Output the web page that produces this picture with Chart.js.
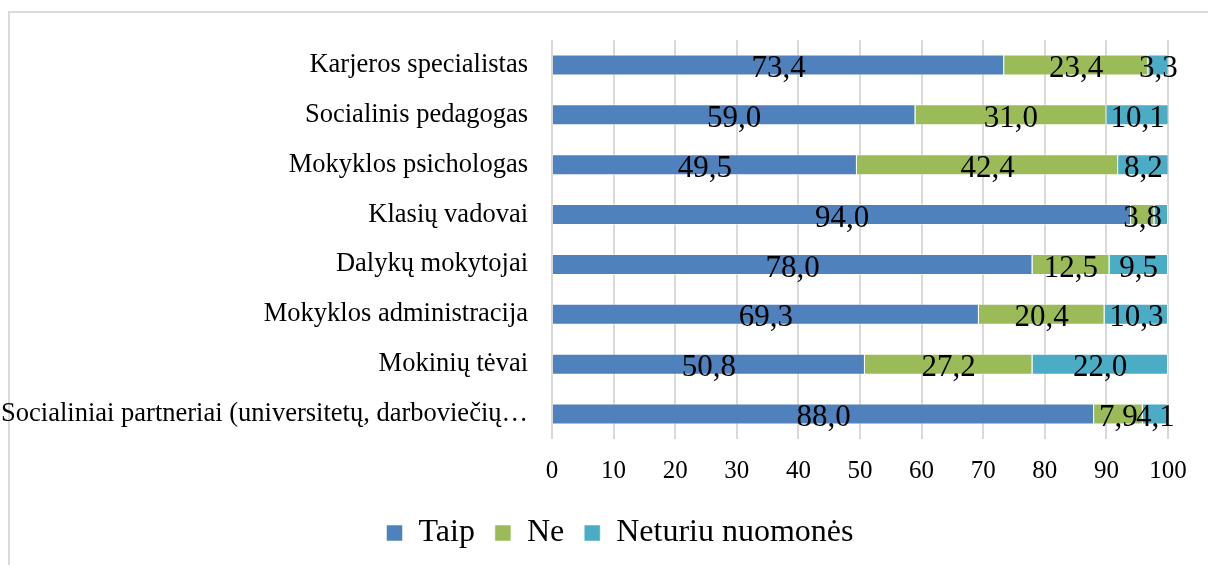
<!DOCTYPE html>
<html>
<head>
<meta charset="utf-8">
<script src="https://cdn.jsdelivr.net/npm/chart.js@4/dist/chart.umd.min.js"></script>
<style>
  html, body { margin: 0; padding: 0; background: #fff; overflow: hidden; }
  #wrap { position: relative; width: 1208px; height: 565px; overflow: hidden; }
  #frame { position: absolute; left: 8px; top: 11px; width: 1300px; height: 700px;
           border: 2px solid #d9d9d9; box-sizing: border-box; }
  #chart { position: absolute; left: 0; top: 0; }
</style>
</head>
<body>
<div id="wrap">
  <div id="frame"></div>
  <canvas id="chart" width="1208" height="565"></canvas>
</div>
<script>
"use strict";

// categories, top to bottom
var categories = [
    'Karjeros specialistas',
    'Socialinis pedagogas',
    'Mokyklos psichologas',
    'Klasių vadovai',
    'Dalykų mokytojai',
    'Mokyklos administracija',
    'Mokinių tėvai',
    'Socialiniai partneriai (universitetų, darboviečių…'
];
var taip = [73.4, 59.0, 49.5, 94.0, 78.0, 69.3, 50.8, 88.0];
var ne = [23.4, 31.0, 42.4, 3.8, 12.5, 20.4, 27.2, 7.9];
var neturiu = [3.3, 10.1, 8.2, 2.2, 9.5, 10.3, 22.0, 4.1];
var xTicks = [0, 10, 20, 30, 40, 50, 60, 70, 80, 90, 100];
// [dataset, index] of values that have no label in the original
var skipLabels = [[2, 3]];

var serif = "'Liberation Serif', 'Times New Roman', serif";

// value labels in the middle of each segment
var barLabels = {
    id: 'barLabels',
    afterDatasetsDraw: function(chart) {
        var ctx = chart.ctx;
        ctx.save();
        ctx.font = '31px ' + serif;
        ctx.fillStyle = '#000';
        ctx.textAlign = 'center';
        ctx.textBaseline = 'middle';
        chart.data.datasets.forEach(function(ds, di) {
            var meta = chart.getDatasetMeta(di);
            meta.data.forEach(function(el, i) {
                var skip = skipLabels.some(function(s) { return s[0] == di && s[1] == i; });
                if (skip) return;
                var txt = ds.data[i].toFixed(1).replace('.', ',');
                ctx.fillText(txt, (el.x + el.base) / 2, el.y + 4);
            });
        });
        ctx.restore();
    }
};

// legend sits a bit right of the canvas centre in the original
var legendShift = {
    id: 'legendShift',
    afterLayout: function(chart) {
        chart.legend.left += 36;
        chart.legend.right += 36;
    }
};

var barStyle = {
    borderColor: 'rgba(255,255,255,0.5)',
    borderWidth: 1,
    barPercentage: 0.42,
    categoryPercentage: 1.0
};

var chart = new Chart(document.getElementById('chart'), {
    type: 'bar',
    data: {
        labels: categories,
        datasets: [
            Object.assign({ label: 'Taip', data: taip, backgroundColor: '#4F81BD' }, barStyle),
            Object.assign({ label: 'Ne', data: ne, backgroundColor: '#9BBB59' }, barStyle),
            Object.assign({ label: 'Neturiu nuomonės', data: neturiu, backgroundColor: '#4BACC6' }, barStyle)
        ]
    },
    options: {
        indexAxis: 'y',
        responsive: false,
        animation: false,
        layout: { padding: { top: 40, right: 40, left: 0, bottom: 6 } },
        scales: {
            x: {
                stacked: true,
                min: 0,
                max: 100,
                afterBuildTicks: function(scale) {
                    scale.ticks = xTicks.map(function(v) { return { value: v }; });
                },
                afterFit: function(scale) { scale.height = 58; },
                grid: { color: '#d9d9d9', lineWidth: 2, drawTicks: false },
                border: { display: false },
                ticks: { color: '#000', padding: 17, font: { family: serif, size: 25 } }
            },
            y: {
                stacked: true,
                afterFit: function(scale) { scale.width = 552; },
                grid: { display: false },
                border: { display: false },
                ticks: { color: '#000', padding: 16, font: { family: serif, size: 26.5 } }
            }
        },
        plugins: {
            legend: {
                position: 'bottom',
                labels: {
                    color: '#000',
                    boxWidth: 16,
                    boxHeight: 16,
                    padding: 20,
                    font: { family: serif, size: 32 }
                }
            },
            tooltip: { enabled: false }
        }
    },
    plugins: [barLabels, legendShift]
});
</script>
</body>
</html>
